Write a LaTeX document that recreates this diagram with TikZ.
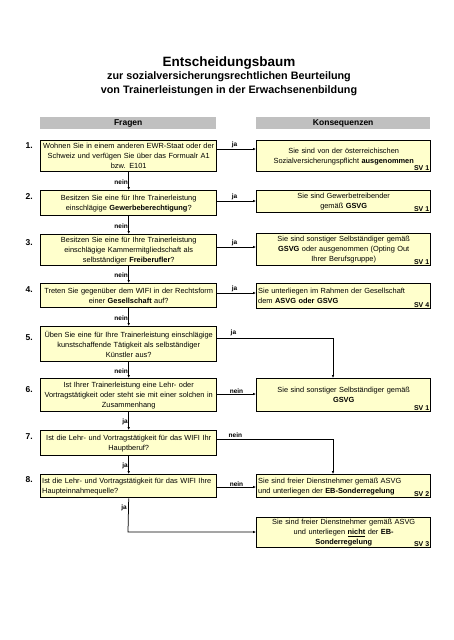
\documentclass[tikz,border=0pt]{standalone}
\usepackage{fontspec}
\setmainfont{Liberation Sans}
\usetikzlibrary{arrows.meta}
\definecolor{boxyellow}{RGB}{255,255,204}
\definecolor{headgray}{RGB}{192,192,192}
\newcommand{\boxfont}{\fontsize{7.4}{9.9}\selectfont}
\begin{document}
\begin{tikzpicture}[x=1pt,y=1pt,
  qbox/.style={draw, line width=1.4pt, fill=boxyellow, anchor=north west,
    inner sep=1.5pt, text width=173pt, align=center, font=\boxfont},
  rbox/.style={qbox, text width=171pt},
  num/.style={font=\fontsize{8.5}{9}\selectfont\bfseries, anchor=west},
  sv/.style={font=\fontsize{7}{8}\selectfont\bfseries, anchor=south east, inner sep=2pt},
  lab/.style={font=\fontsize{6.5}{7}\selectfont\bfseries, inner sep=0.5pt},
  hlab/.style={lab, anchor=south west},
  vlab/.style={lab, anchor=east},
  arr/.style={line width=0.75pt, -{Latex[length=3pt,width=2.6pt]}},
  head/.style={fill=headgray, anchor=north west, minimum height=12pt, inner sep=0pt,
    font=\fontsize{8.5}{9}\selectfont\bfseries}
]
\useasboundingbox (0,0) rectangle (453,-640);

% title
\node[font=\fontsize{13.5}{15}\selectfont\bfseries] (t1) at (229,-63) {Entscheidungsbaum};
\node[font=\fontsize{10.8}{12}\selectfont\bfseries] (t2) at (229,-77) {zur sozialversicherungsrechtlichen Beurteilung};
\node[font=\fontsize{10.8}{12}\selectfont\bfseries] (t3) at (229,-91) {von Trainerleistungen in der Erwachsenenbildung};

% headers
\node[head, minimum width=176pt] (hf) at (40,-117) {Fragen};
\node[head, minimum width=174pt] (hk) at (256,-117) {Konsequenzen};

% questions
\node[qbox, minimum height=31pt] (q1) at (40,-140) {Wohnen Sie in einem anderen EWR-Staat oder der\\ Schweiz und verfügen Sie über das Formualr A1\\ bzw. E101};
\node[qbox, minimum height=25pt] (q2) at (40,-190) {Besitzen Sie eine für Ihre Trainerleistung\\ einschlägige \textbf{Gewerbeberechtigung}?};
\node[qbox, minimum height=31pt] (q3) at (40,-234) {Besitzen Sie eine für Ihre Trainerleistung\\ einschlägige Kammermitgliedschaft als\\ selbständiger \textbf{Freiberufler}?};
\node[qbox, minimum height=24pt] (q4) at (40,-283) {Treten Sie gegenüber dem WIFI in der Rechtsform\\ einer \textbf{Gesellschaft} auf?};
\node[qbox, minimum height=35pt] (q5) at (40,-326) {Üben Sie eine für Ihre Trainerleistung einschlägige\\ kunstschaffende Tätigkeit als selbständiger\\ Künstler aus?};
\node[qbox, minimum height=33pt] (q6) at (40,-378) {Ist Ihrer Trainerleistung eine Lehr- oder\\ Vortragstätigkeit oder steht sie mit einer solchen in\\ Zusammenhang};
\node[qbox, minimum height=25pt] (q7) at (40,-430) {Ist die Lehr- und Vortragstätigkeit für das WIFI Ihr\\ Hauptberuf?};
\node[qbox, minimum height=23pt, align=left] (q8) at (40,-474) {Ist die Lehr- und Vortragstätigkeit für das WIFI Ihre\\ Haupteinnahmequelle?};

% numbers
\node[num] (n1) at (22,-146) {1.};
\node[num] (n2) at (22,-197) {2.};
\node[num] (n3) at (22,-243) {3.};
\node[num] (n4) at (22,-290) {4.};
\node[num] (n5) at (22,-338) {5.};
\node[num] (n6) at (22,-390) {6.};
\node[num] (n7) at (22,-437) {7.};
\node[num] (n8) at (22,-480) {8.};

% consequences
\node[rbox, minimum height=31pt] (r1) at (256,-140) {Sie sind von der österreichischen\\ Sozialversicherungspflicht \textbf{ausgenommen}};
\node[rbox, minimum height=22pt] (r2) at (256,-190) {Sie sind Gewerbetreibender\\ gemäß \textbf{GSVG}};
\node[rbox, minimum height=32pt] (r3) at (256,-233) {Sie sind sonstiger Selbständiger gemäß\\ \textbf{GSVG} oder ausgenommen (Opting Out\\ Ihrer Berufsgruppe)};
\node[rbox, minimum height=25pt, align=left] (r4) at (256,-283) {Sie unterliegen im Rahmen der Gesellschaft\\ dem \textbf{ASVG oder GSVG}};
\node[rbox, minimum height=33pt] (r6) at (256,-378) {Sie sind sonstiger Selbständiger gemäß\\ \textbf{GSVG}};
\node[rbox, minimum height=23pt, align=left] (r8) at (256,-474) {Sie sind freier Dienstnehmer gemäß ASVG\\ und unterliegen der \textbf{EB-Sonderregelung}};
\node[rbox, minimum height=30pt] (r9) at (256,-517) {Sie sind freier Dienstnehmer gemäß ASVG\\ und unterliegen \underline{\textbf{nicht}} der \textbf{EB-}\\ \textbf{Sonderregelung}};

% SV labels
\node[sv] (s1) at (r1.south east) {SV 1};
\node[sv] (s2) at (r2.south east) {SV 1};
\node[sv] (s3) at (r3.south east) {SV 1};
\node[sv] (s4) at (r4.south east) {SV 4};
\node[sv] (s6) at (r6.south east) {SV 1};
\node[sv] (s8) at (r8.south east) {SV 2};
\node[sv] (s9) at (r9.south east) {SV 3};

% vertical nein/ja connectors
\draw[arr] (q1) -- (q2) node[vlab, pos=0.55] {nein};
\draw[arr] (q2) -- (q3) node[vlab, pos=0.55] {nein};
\draw[arr] (q3) -- (q4) node[vlab, pos=0.55] {nein};
\draw[arr] (q4) -- (q5) node[vlab, pos=0.55] {nein};
\draw[arr] (q5) -- (q6) node[vlab, pos=0.55] {nein};
\draw[arr] (q6) -- (q7) node[vlab, pos=0.55] {ja};
\draw[arr] (q7) -- (q8) node[vlab, pos=0.55] {ja};

% horizontal connectors
\draw[arr] (q1.east |- 0,-149) -- (r1.west |- 0,-149) node[hlab, pos=0.35] {ja};
\draw[arr] (q2.east |- 0,-201) -- (r2.west |- 0,-201) node[hlab, pos=0.35] {ja};
\draw[arr] (q3.east |- 0,-247) -- (r3.west |- 0,-247) node[hlab, pos=0.35] {ja};
\draw[arr] (q4.east |- 0,-293) -- (r4.west |- 0,-293) node[hlab, pos=0.35] {ja};
\draw[arr] (q6.east |- 0,-394) -- (r6.west |- 0,-394) node[hlab, pos=0.3] {nein};
\draw[arr] (q8.east |- 0,-487) -- (r8.west |- 0,-487) node[hlab, pos=0.3] {nein};

\coordinate (c5) at (333,-338);
\draw[arr] (q5.east |- c5) -- (c5) -- (c5 |- r6.north);
\node[hlab] (l5) at (230,-337) {ja};
\coordinate (c7) at (333,-439);
\draw[arr] (q7.east |- c7) -- (c7) -- (c7 |- r8.north);
\node[hlab] (l7) at (228,-438) {nein};

\coordinate (c8) at (128,-532);
\draw[arr] (q8.south) -- (c8) -- (r9.west |- c8);
\node[vlab] (l8) at (127.5,-508) {ja};
\end{tikzpicture}
\end{document}
